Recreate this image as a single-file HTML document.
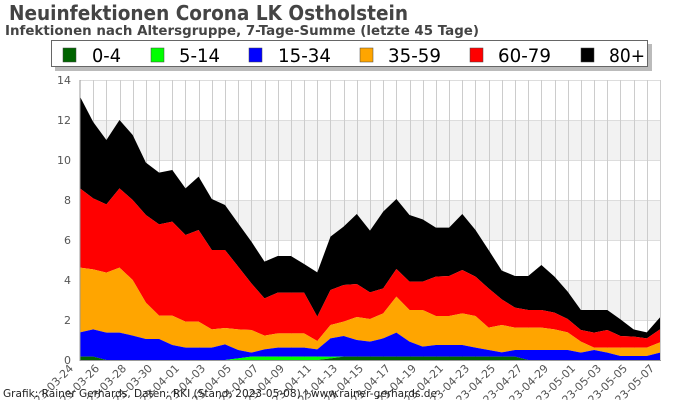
<!DOCTYPE html>
<html><head><meta charset="utf-8"><style>
html,body{margin:0;padding:0;background:#fff;width:700px;height:400px;overflow:hidden}
svg{display:block;font-family:"Liberation Sans",sans-serif}
</style></head><body>
<svg id="s" width="700" height="400" viewBox="0 0 700 400" xmlns="http://www.w3.org/2000/svg">
<rect x="0" y="0" width="700" height="400" fill="#fff"/>
<text x="9" y="20" font-size="20" font-weight="bold" fill="#444" font-family="DejaVu Sans, sans-serif" textLength="399" lengthAdjust="spacingAndGlyphs">Neuinfektionen Corona LK Ostholstein</text>
<text x="5" y="35" font-size="13" font-weight="bold" fill="#444" font-family="DejaVu Sans, sans-serif" textLength="474" lengthAdjust="spacingAndGlyphs">Infektionen nach Altersgruppe, 7-Tage-Summe (letzte 45 Tage)</text>
<rect x="80" y="120" width="580" height="40" fill="#f2f2f2"/>
<rect x="80" y="200" width="580" height="40" fill="#f2f2f2"/>
<rect x="80" y="280" width="580" height="40" fill="#f2f2f2"/>
<g id="grid"></g>
<g id="areas"></g>
<line x1="80" y1="80" x2="80" y2="361" stroke="#999" stroke-width="1"/>
<line x1="80" y1="360.5" x2="661" y2="360.5" stroke="#999" stroke-width="1"/>
<g font-size="11" fill="#555" text-anchor="end" font-family="DejaVu Sans, sans-serif">
<text x="71" y="84">14</text><text x="71" y="124">12</text><text x="71" y="164">10</text>
<text x="71" y="204">8</text><text x="71" y="244">6</text><text x="71" y="284">4</text>
<text x="71" y="324">2</text><text x="71" y="364">0</text>
</g>
<g font-size="11" fill="#555" text-anchor="end" font-family="DejaVu Sans, sans-serif">
<text transform="translate(74,369) rotate(-45)">2023-03-24</text>
<text transform="translate(100,369) rotate(-45)">2023-03-26</text>
<text transform="translate(127,369) rotate(-45)">2023-03-28</text>
<text transform="translate(153,369) rotate(-45)">2023-03-30</text>
<text transform="translate(180,369) rotate(-45)">2023-04-01</text>
<text transform="translate(206,369) rotate(-45)">2023-04-03</text>
<text transform="translate(232,369) rotate(-45)">2023-04-05</text>
<text transform="translate(259,369) rotate(-45)">2023-04-07</text>
<text transform="translate(285,369) rotate(-45)">2023-04-09</text>
<text transform="translate(312,369) rotate(-45)">2023-04-11</text>
<text transform="translate(338,369) rotate(-45)">2023-04-13</text>
<text transform="translate(364,369) rotate(-45)">2023-04-15</text>
<text transform="translate(391,369) rotate(-45)">2023-04-17</text>
<text transform="translate(417,369) rotate(-45)">2023-04-19</text>
<text transform="translate(444,369) rotate(-45)">2023-04-21</text>
<text transform="translate(470,369) rotate(-45)">2023-04-23</text>
<text transform="translate(496,369) rotate(-45)">2023-04-25</text>
<text transform="translate(523,369) rotate(-45)">2023-04-27</text>
<text transform="translate(549,369) rotate(-45)">2023-04-29</text>
<text transform="translate(576,369) rotate(-45)">2023-05-01</text>
<text transform="translate(602,369) rotate(-45)">2023-05-03</text>
<text transform="translate(628,369) rotate(-45)">2023-05-05</text>
<text transform="translate(655,369) rotate(-45)">2023-05-07</text>
</g>
<text x="3" y="397" font-size="11" fill="#222" font-family="DejaVu Sans, sans-serif" textLength="434" lengthAdjust="spacingAndGlyphs">Grafik: Rainer Gerhards, Daten: RKI (Stand: 2023-05-08) | www.rainer-gerhards.de</text>
<rect x="55" y="44" width="597" height="27" fill="#bbb"/>
<rect x="51.5" y="40.5" width="596" height="26" fill="#fff" stroke="#666" stroke-width="1"/>
<g font-size="19" fill="#000" font-family="DejaVu Sans, sans-serif">
<rect x="63" y="48" width="13" height="14" fill="#006400" stroke="#444" stroke-width="0.5"/><text x="92" y="62" textLength="29" lengthAdjust="spacingAndGlyphs">0-4</text>
<rect x="151" y="48" width="13" height="14" fill="#00ff00" stroke="#444" stroke-width="0.5"/><text x="179" y="62" textLength="41" lengthAdjust="spacingAndGlyphs">5-14</text>
<rect x="249" y="48" width="13" height="14" fill="#0000ff" stroke="#444" stroke-width="0.5"/><text x="278" y="62" textLength="53" lengthAdjust="spacingAndGlyphs">15-34</text>
<rect x="360" y="48" width="13" height="14" fill="#ffa500" stroke="#444" stroke-width="0.5"/><text x="388" y="62" textLength="53" lengthAdjust="spacingAndGlyphs">35-59</text>
<rect x="470" y="48" width="13" height="14" fill="#ff0000" stroke="#444" stroke-width="0.5"/><text x="498" y="62" textLength="53" lengthAdjust="spacingAndGlyphs">60-79</text>
<rect x="581" y="48" width="13" height="14" fill="#000000" stroke="#444" stroke-width="0.5"/><text x="609" y="62" textLength="36" lengthAdjust="spacingAndGlyphs">80+</text>
</g>
</svg>
<script>
(function(){
var NS="http://www.w3.org/2000/svg";
var x0=80,dx=580/44;
function X(i){return x0+dx*i;}
function Y(v){return 360-v*20;}
var g=document.getElementById("grid");
for(var k=1;k<=7;k++){var l=document.createElementNS(NS,"line");l.setAttribute("x1",80);l.setAttribute("x2",660);l.setAttribute("y1",360-k*40+0.5);l.setAttribute("y2",360-k*40+0.5);l.setAttribute("stroke","#ddd");g.appendChild(l);}
for(var i=1;i<=44;i++){var l=document.createElementNS(NS,"line");var x=Math.round(X(i))+0.5;l.setAttribute("x1",x);l.setAttribute("x2",x);l.setAttribute("y1",80);l.setAttribute("y2",360);l.setAttribute("stroke","#ccc");g.appendChild(l);}
var black=[13.17,11.9,11.0,12.0,11.25,9.87,9.37,9.5,8.58,9.17,8.05,7.75,6.83,5.92,4.92,5.2,5.2,4.8,4.38,6.17,6.67,7.3,6.47,7.42,8.05,7.25,7.03,6.62,6.62,7.3,6.5,5.5,4.47,4.2,4.2,4.75,4.17,3.42,2.5,2.5,2.5,2.03,1.53,1.38,2.13];
var red=[8.58,8.08,7.78,8.58,8.0,7.25,6.78,6.92,6.25,6.5,5.5,5.5,4.67,3.83,3.08,3.37,3.37,3.37,2.17,3.5,3.75,3.8,3.38,3.58,4.55,3.92,3.92,4.17,4.2,4.5,4.17,3.58,3.03,2.62,2.5,2.5,2.37,2.05,1.5,1.37,1.5,1.2,1.17,1.08,1.53];
var orange=[4.62,4.53,4.37,4.62,4.0,2.87,2.22,2.22,1.92,1.92,1.53,1.6,1.53,1.5,1.22,1.33,1.33,1.33,0.95,1.75,1.92,2.15,2.05,2.33,3.17,2.5,2.5,2.2,2.2,2.33,2.2,1.62,1.75,1.62,1.62,1.62,1.53,1.38,0.92,0.62,0.62,0.62,0.62,0.62,0.88];
var blue=[1.38,1.53,1.37,1.37,1.22,1.05,1.05,0.75,0.62,0.62,0.62,0.78,0.5,0.37,0.53,0.62,0.62,0.62,0.53,1.08,1.2,1.0,0.92,1.08,1.37,0.92,0.67,0.75,0.75,0.75,0.62,0.5,0.38,0.5,0.5,0.5,0.5,0.5,0.37,0.5,0.37,0.2,0.2,0.2,0.37];
var lg=[],dg=[];
for(var i=0;i<45;i++){
 var d=(i<=1||(i>=20&&i<=33))?0.17:0;
 if(i==19)d=0.08;
 var l2=(i>=13&&i<=18)?0.17:(i==12||i==19?0.08:0);
 dg.push(d);lg.push(d+l2);
}
var zero=[];for(i=0;i<45;i++)zero.push(0);
var layers=[[black,red,"#000"],[red,orange,"#f00"],[orange,blue,"#ffa500"],[blue,lg,"#00f"],[lg,dg,"#0f0"],[dg,zero,"#006400"]];
var A=document.getElementById("areas");
layers.forEach(function(L){
 var top=L[0],bot=L[1],pts=[];
 for(var i=0;i<45;i++)pts.push(X(i).toFixed(1)+","+Y(top[i]).toFixed(1));
 for(i=44;i>=0;i--)pts.push(X(i).toFixed(1)+","+Y(bot[i]).toFixed(1));
 var p=document.createElementNS(NS,"polygon");p.setAttribute("points",pts.join(" "));p.setAttribute("fill",L[2]);A.appendChild(p);
});
})();
</script>
</body></html>
